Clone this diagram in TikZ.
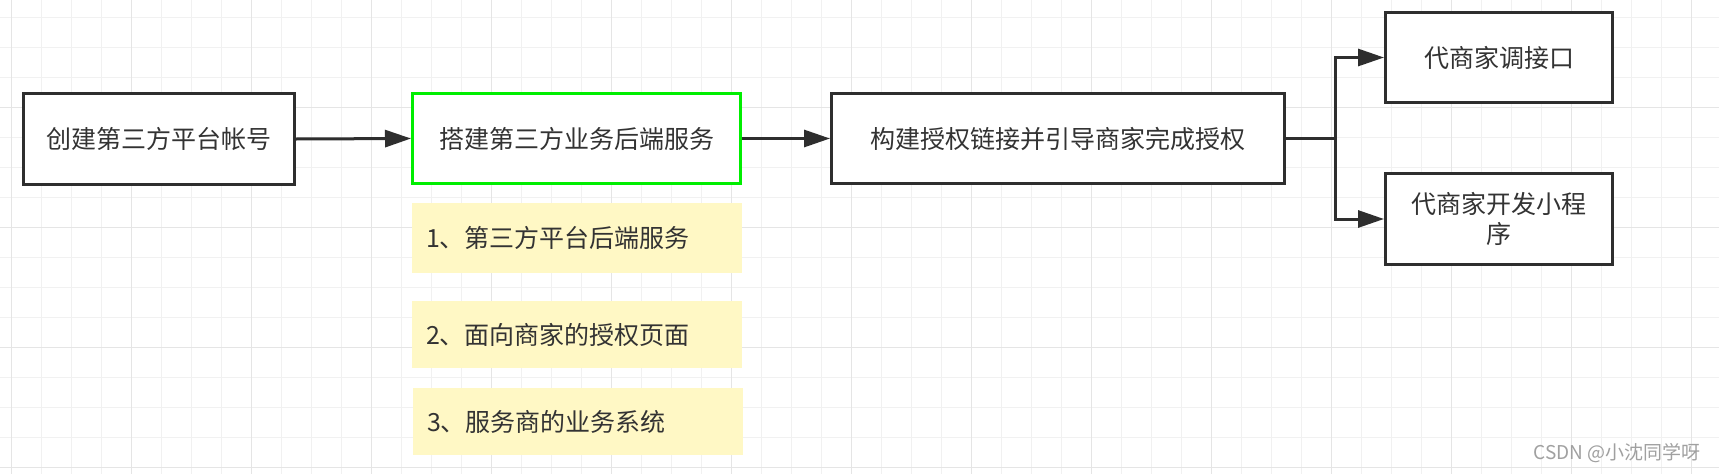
\documentclass[tikz,border=0pt]{standalone}
\usepackage{fontspec}
\setmainfont{Noto Sans CJK SC}
\usetikzlibrary{arrows.meta}
\definecolor{ink}{HTML}{333333}
\definecolor{edgec}{HTML}{2E2E2E}
\definecolor{gbright}{HTML}{00EE00}
\definecolor{notefill}{HTML}{FFF8C5}
\definecolor{gridminor}{HTML}{F1F1F1}
\definecolor{gridmajor}{HTML}{E5E5E5}
\definecolor{wmgray}{HTML}{A0A0A0}
\begin{document}
\begin{tikzpicture}[x=1pt,y=-1pt,
  box/.style={draw=edgec, line width=3pt, fill=white, inner sep=0pt, text=ink,
    font=\fontsize{25pt}{30pt}\selectfont, align=center},
  note/.style={fill=notefill, inner sep=0pt, text=ink, font=\fontsize{25pt}{30pt}\selectfont,
    align=left, text width=302pt, minimum width=330pt},
  arr/.style={draw=edgec, line width=3pt, -{Triangle[length=26pt,width=17pt]}},
  wmark/.style={text=wmgray, font=\fontsize{19pt}{22pt}\selectfont, inner sep=0pt}
]
\fill[white] (0,0) rectangle (1719,474);
\useasboundingbox (0,0) rectangle (1719,474);
% grid
\foreach \i in {0,...,56} \draw[gridminor, line width=1pt] ({11.7+30*\i},0) -- ({11.7+30*\i},474);
\foreach \j in {0,...,15} \draw[gridminor, line width=1pt] (0,{17.3+30*\j}) -- (1719,{17.3+30*\j});
\foreach \i in {0,...,14} \draw[gridmajor, line width=1pt] ({11.7+120*\i},0) -- ({11.7+120*\i},474);
\foreach \j in {0,...,3} \draw[gridmajor, line width=1pt] (0,{107.3+120*\j}) -- (1719,{107.3+120*\j});

% boxes
\node[box, minimum width=271pt, minimum height=91pt] (b1) at (159,139) {创建第三方平台帐号};
\node[box, draw=gbright, minimum width=328pt, minimum height=90pt] (b2) at (576.5,138.5) {搭建第三方业务后端服务};
\node[box, minimum width=453pt, minimum height=90pt] (b3) at (1058,138.5) {构建授权链接并引导商家完成授权};
\node[box, minimum width=227pt, minimum height=90pt] (b4) at (1499,57.5) {代商家调接口};
\node[box, minimum width=227pt, minimum height=91pt] (b5) at (1499,219) {代商家开发小程\\序};

% notes
\node[note, minimum height=70pt] (n1) at (577,238) {1、第三方平台后端服务};
\node[note, minimum height=67pt] (n2) at (577,334.5) {2、面向商家的授权页面};
\node[note, minimum height=67pt] (n3) at (578,421.5) {3、服务商的业务系统};

% connectors
\coordinate (br) at (1335,138.5);
\draw[arr] (b1.east) -- (b2.west);
\draw[arr] (b2.east) -- (b3.west);
\draw[arr] (b3.east) -- (br) |- (b4.west);
\draw[arr] (br) |- (b5.west);

% watermark
\node[wmark] (wm) at (1617,453) {CSDN @小沈同学呀};
\end{tikzpicture}
\end{document}
